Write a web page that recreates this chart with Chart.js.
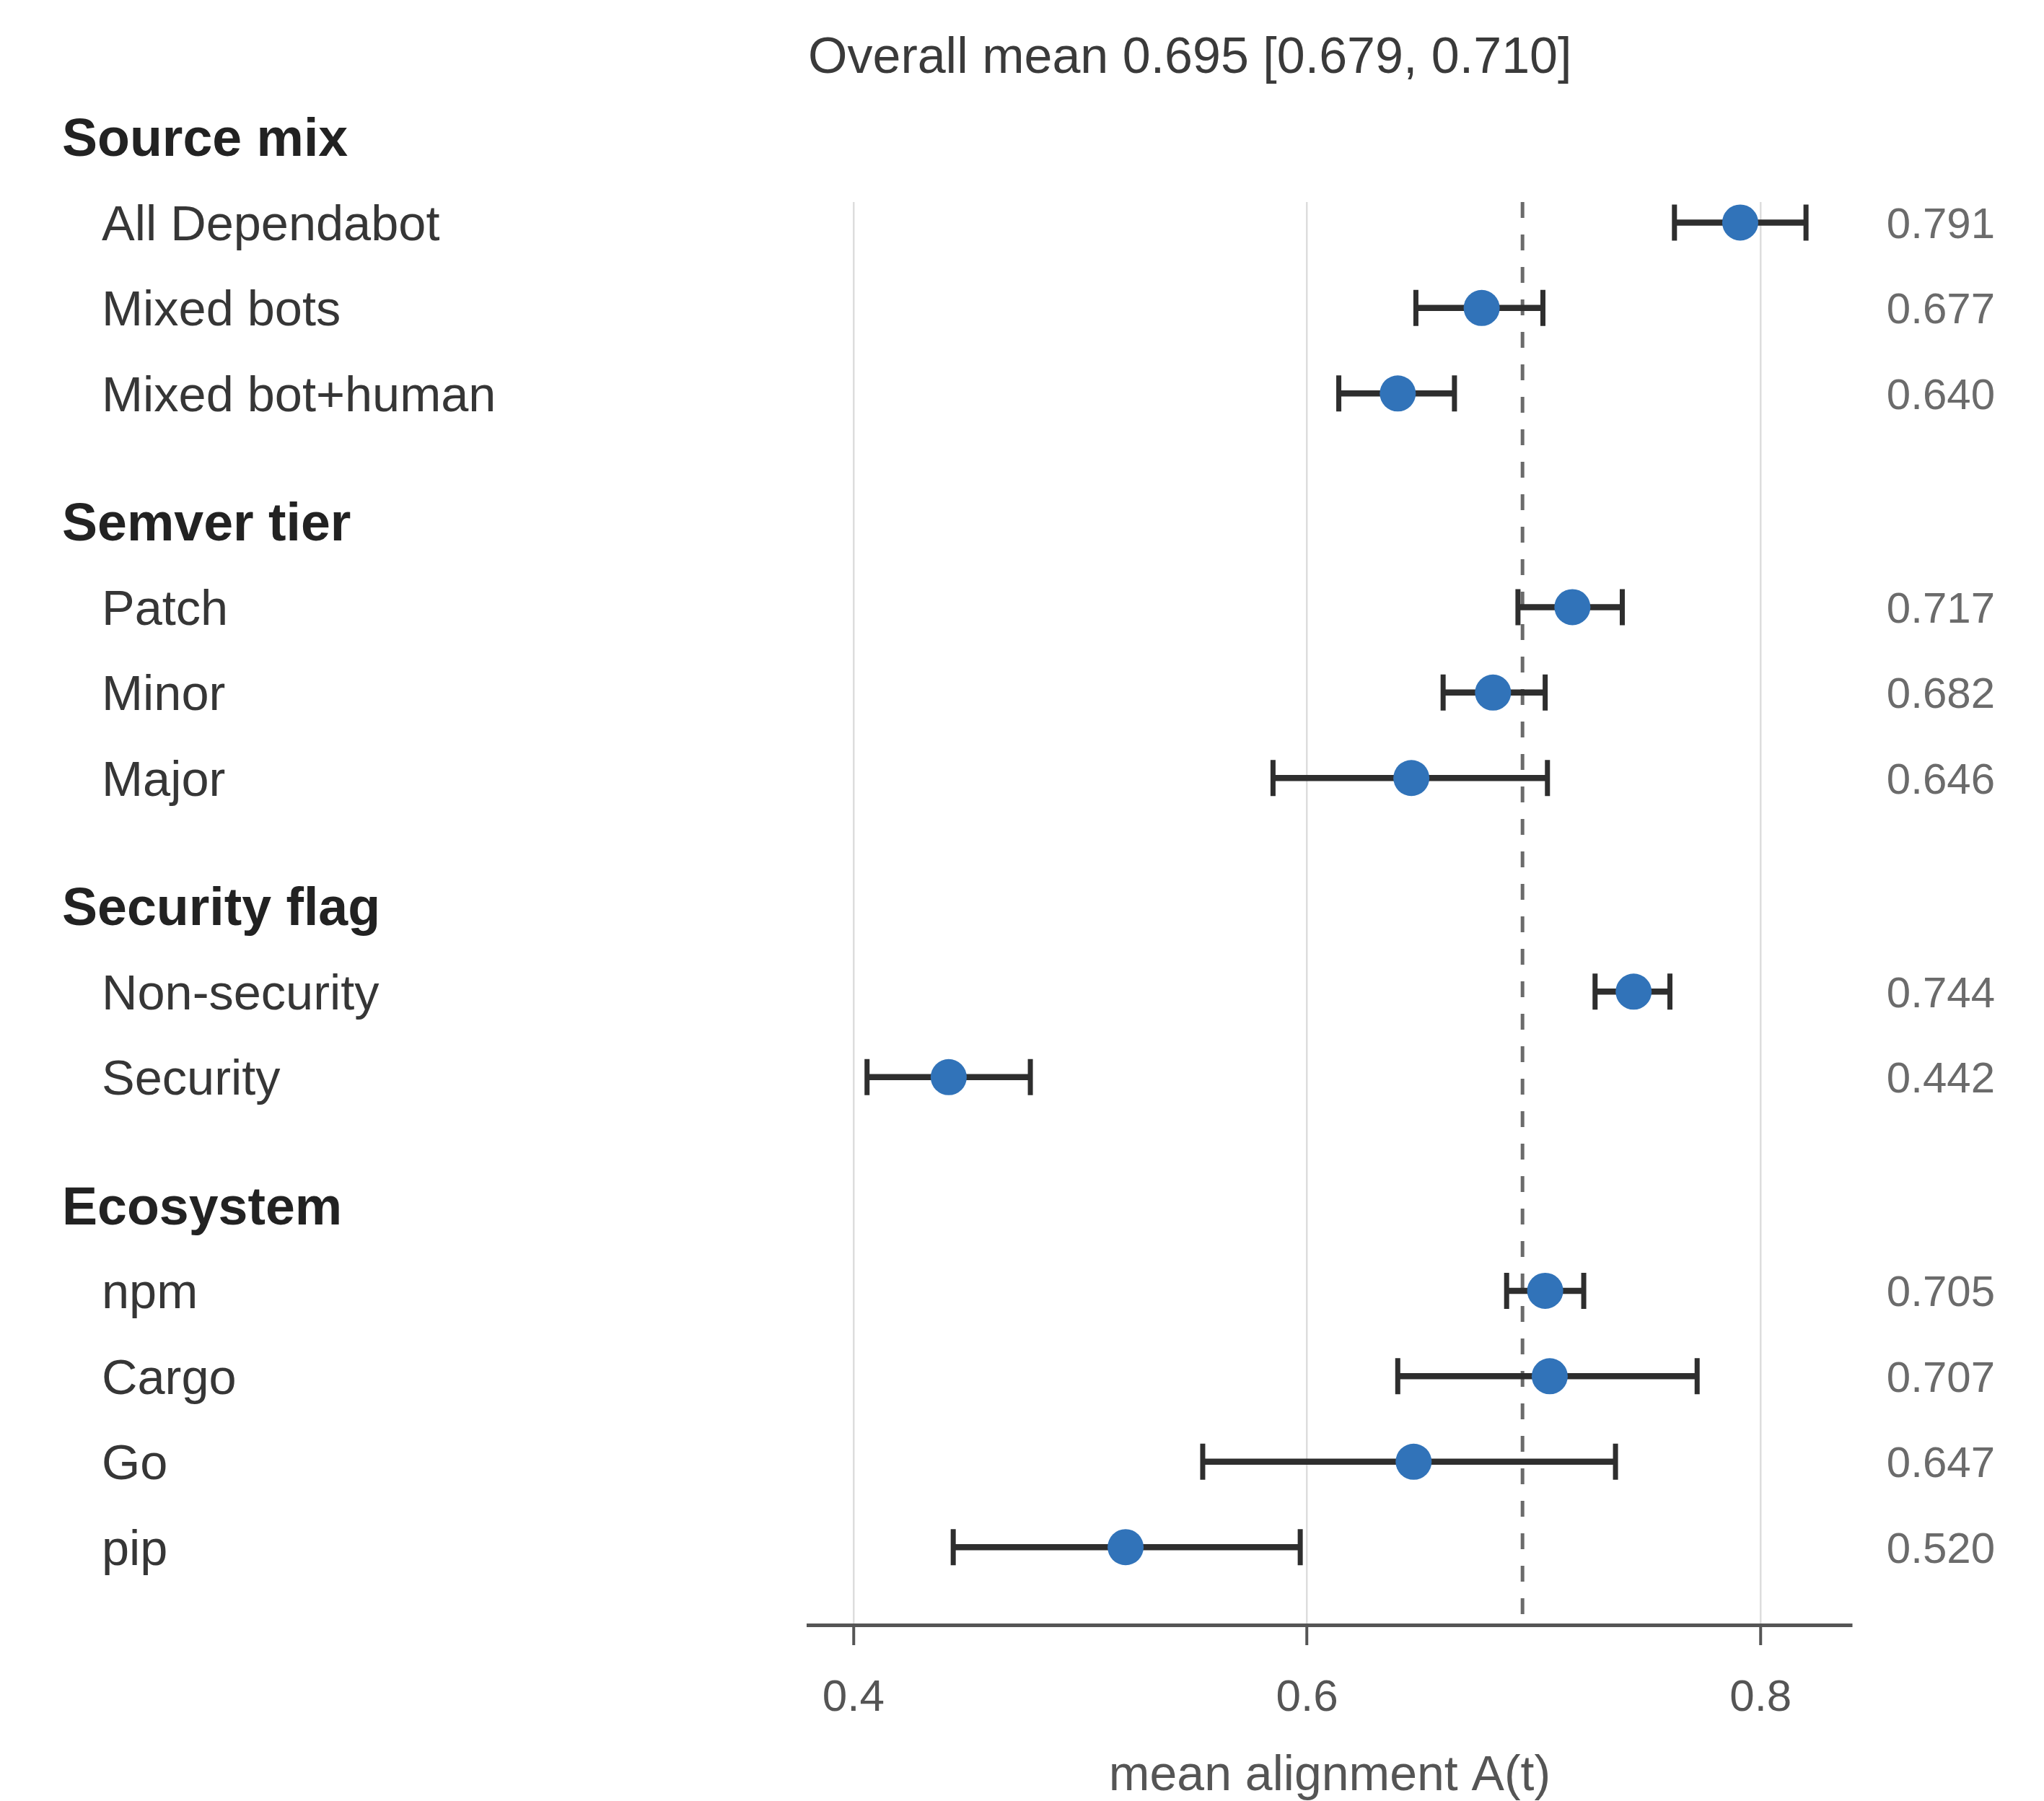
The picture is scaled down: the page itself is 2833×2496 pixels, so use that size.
<!DOCTYPE html>
<html>
<head>
<meta charset="utf-8">
<script src="https://cdn.jsdelivr.net/npm/chart.js@4.4.1/dist/chart.umd.min.js"></script>
<style>
  html, body { margin: 0; padding: 0; background: #ffffff; }
  #forest { display: block; }
</style>
</head>
<body>
<canvas id="forest" width="2833" height="2496"></canvas>
<script>
/* ---------- DATA ---------- */
const groups = ["Source mix", "Semver tier", "Security flag", "Ecosystem"];
const groupSizes = [3, 3, 2, 4];
const labels = [
  "All Dependabot", "Mixed bots", "Mixed bot+human",
  "Patch", "Minor", "Major",
  "Non-security", "Security",
  "npm", "Cargo", "Go", "pip"
];
const means  = [0.791, 0.677, 0.640, 0.717, 0.682, 0.646, 0.744, 0.442, 0.705, 0.707, 0.647, 0.520];
const ciLow  = [0.762, 0.648, 0.614, 0.693, 0.660, 0.585, 0.727, 0.406, 0.688, 0.640, 0.554, 0.444];
const ciHigh = [0.820, 0.704, 0.665, 0.739, 0.705, 0.706, 0.760, 0.478, 0.722, 0.772, 0.736, 0.597];
const overallMean = 0.695;
const overallLow = 0.679;
const overallHigh = 0.710;
const xTicks = [0.4, 0.6, 0.8];

/* ---------- ROW LAYOUT ---------- */
// header sits one row above its items, groups separated by 1.5 rows
const headerRows = [];
const itemRows = [];
let row = 0;
groups.forEach((g, gi) => {
  headerRows.push(row);
  for (let k = 1; k <= groupSizes[gi]; k++) itemRows.push(row + k);
  row += groupSizes[gi] + 1.5;
});

const FONT = "'Liberation Sans', Arial, sans-serif";

/* ---------- PLUGINS ---------- */
const refLine = {
  id: "refLine",
  beforeDatasetsDraw(chart) {
    const { ctx, chartArea, scales } = chart;
    const x = scales.x.getPixelForValue(overallMean);
    ctx.save();
    ctx.strokeStyle = "#6b6b6b";
    ctx.lineWidth = 5;
    ctx.setLineDash([22, 23]);
    ctx.beginPath();
    ctx.moveTo(x, chartArea.top);
    ctx.lineTo(x, chartArea.bottom);
    ctx.stroke();
    ctx.restore();

    // error bars
    ctx.save();
    ctx.strokeStyle = "#2e2e2e";
    means.forEach((m, i) => {
      const y = scales.y.getPixelForValue(itemRows[i]);
      const x0 = scales.x.getPixelForValue(ciLow[i]);
      const x1 = scales.x.getPixelForValue(ciHigh[i]);
      ctx.lineWidth = 8.5;
      ctx.beginPath();
      ctx.moveTo(x0, y);
      ctx.lineTo(x1, y);
      ctx.stroke();
      ctx.lineWidth = 7;
      ctx.beginPath();
      ctx.moveTo(x0, y - 25);
      ctx.lineTo(x0, y + 25);
      ctx.moveTo(x1, y - 25);
      ctx.lineTo(x1, y + 25);
      ctx.stroke();
    });
    ctx.restore();
  }
};

const textLabels = {
  id: "textLabels",
  afterDraw(chart) {
    const { ctx, chartArea, scales } = chart;
    ctx.save();
    ctx.textBaseline = "alphabetic";

    // title
    ctx.fillStyle = "#3a3a3a";
    ctx.font = `70px ${FONT}`;
    ctx.textAlign = "left";
    ctx.fillText(
      `Overall mean ${overallMean.toFixed(3)} [${overallLow.toFixed(3)}, ${overallHigh.toFixed(3)}]`,
      chartArea.left, 76 + 0.358 * 70
    );

    // group headers
    ctx.fillStyle = "#222222";
    ctx.font = `bold 73.5px ${FONT}`;
    groups.forEach((g, gi) => {
      const y = scales.y.getPixelForValue(headerRows[gi]);
      ctx.fillText(g, 86, y + 0.358 * 73.5);
    });

    // item labels + values
    labels.forEach((l, i) => {
      const y = scales.y.getPixelForValue(itemRows[i]);
      ctx.textAlign = "left";
      ctx.fillStyle = "#363636";
      ctx.font = `68.5px ${FONT}`;
      ctx.fillText(l, 141, y + 0.358 * 68.5);

      ctx.textAlign = "right";
      ctx.fillStyle = "#6b6b6b";
      ctx.font = `60px ${FONT}`;
      ctx.fillText(means[i].toFixed(3), 2765, y + 0.358 * 60);
    });
    ctx.restore();
  }
};

/* ---------- CHART ---------- */
new Chart(document.getElementById("forest"), {
  type: "scatter",
  data: {
    datasets: [{
      data: means.map((m, i) => ({ x: m, y: itemRows[i] })),
      backgroundColor: "#3173b9",
      borderWidth: 0,
      pointRadius: 25,
      pointHoverRadius: 25
    }]
  },
  options: {
    responsive: false,
    animation: false,
    events: [],
    devicePixelRatio: 1,
    layout: { padding: { left: 1120, right: 267, top: 280, bottom: 0 } },
    plugins: {
      legend: { display: false },
      tooltip: { enabled: false }
    },
    scales: {
      x: {
        type: "linear",
        min: 0.38,
        max: 0.84,
        afterBuildTicks: axis => {
          axis.ticks = xTicks.map(v => ({ value: v }));
        },
        grid: {
          color: "#dddddd",
          lineWidth: 2.5,
          drawTicks: true,
          tickLength: 28,
          tickColor: "#555555",
          tickWidth: 4
        },
        border: { display: true, color: "#555555", width: 5 },
        ticks: {
          padding: 43,
          color: "#555555",
          font: { family: FONT, size: 62, lineHeight: 1 },
          callback: v => v.toFixed(1)
        },
        title: {
          display: true,
          text: "mean alignment A(t)",
          color: "#555555",
          padding: 0,
          font: { family: FONT, size: 68, lineHeight: 1 }
        }
      },
      y: {
        type: "linear",
        display: false,
        reverse: true,
        min: 0.76,
        max: 17.41
      }
    }
  },
  plugins: [refLine, textLabels]
});
</script>
</body>
</html>
